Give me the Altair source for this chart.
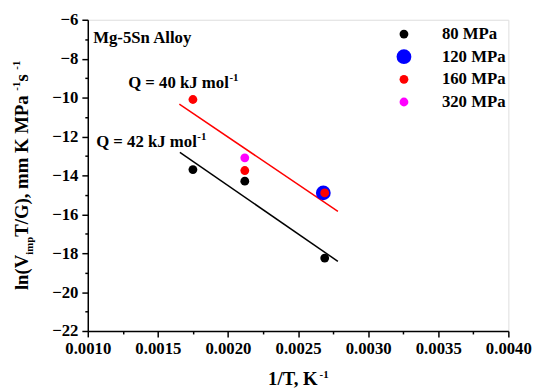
import altair as alt
import pandas as pd

# ---------------- data ----------------
series_order = ["80 MPa", "120 MPa", "160 MPa", "320 MPa"]
series_colors = ["#000000", "#0000FF", "#FF0000", "#FF00FF"]
series_sizes = [80, 225, 80, 80]

pt_series = ["80 MPa", "80 MPa", "80 MPa", "120 MPa", "160 MPa", "160 MPa", "160 MPa", "320 MPa"]
pt_inv_t = [0.00175, 0.00212, 0.00269, 0.00268, 0.00175, 0.00212, 0.00269, 0.00212]
pt_ln = [-13.7, -14.3, -18.25, -14.9, -10.1, -13.75, -14.9, -13.1]

fit_name = ["Q40", "Q40", "Q42", "Q42"]
fit_inv_t = [0.001653, 0.002784, 0.001657, 0.002784]
fit_ln = [-10.34, -15.85, -12.82, -18.42]

x_major = [0.0010, 0.0015, 0.0020, 0.0025, 0.0030, 0.0035, 0.0040]
x_minor = [0.00125, 0.00175, 0.00225, 0.00275, 0.00325, 0.00375]
y_major = [-22, -20, -18, -16, -14, -12, -10, -8, -6]
y_minor = [-21, -19, -17, -15, -13, -11, -9, -7]

FONT = "Liberation Serif"
W, H = 427, 316

# Times-Bold advance widths (per em) for placing super/subscripts
TW = {' ': .25, '(': .333, ')': .333, ',': .25, '-': .333, '.': .25, '/': .278,
      '=': .57, 'G': .778, 'K': .778, 'M': .944, 'P': .611, 'Q': .778, 'T': .667,
      'V': .722, 'a': .5, 'i': .278, 'k': .556, 'l': .278, 'm': .833, 'n': .556,
      'o': .5, 'p': .556, 's': .389, 'J': .5}


def tw(s, size):
    return sum(TW.get(c, .5) for c in s) * size


pts = pd.DataFrame({"series": pt_series, "inv_t": pt_inv_t, "ln": pt_ln})
fits = pd.DataFrame({"fit": fit_name, "inv_t": fit_inv_t, "ln": fit_ln})

xscale = alt.Scale(domain=[0.001, 0.004], nice=False, zero=False)
yscale = alt.Scale(domain=[-22, -6], nice=False, zero=False)

common_axis = dict(title=None, grid=False, labelFont=FONT, labelFontSize=17, labelFontWeight="bold",
                   labelColor="black", domainColor="black", domainWidth=1.5, tickColor="black",
                   tickWidth=1.5, labelOverlap=False, labelFlush=False)

x_axis = alt.Axis(values=x_major, format=".4f", tickSize=6, labelPadding=4, orient="bottom", **common_axis)
y_axis = alt.Axis(values=y_major, format="d", tickSize=6, labelPadding=4, orient="left", **common_axis)
x_axis_minor = alt.Axis(values=x_minor, tickSize=3, labels=False, domain=False, orient="bottom",
                        title=None, grid=False, tickColor="black", tickWidth=1.5)
y_axis_minor = alt.Axis(values=y_minor, tickSize=3, labels=False, domain=False, orient="left",
                        title=None, grid=False, tickColor="black", tickWidth=1.5)

legend = alt.Legend(
    title=None, orient="none", legendX=312.5, legendY=6, padding=0,
    labelFont=FONT, labelFontSize=17, labelFontWeight="bold", labelColor="black",
    symbolType="circle", symbolStrokeWidth=0, rowPadding=5, labelOffset=30)

points = alt.Chart(pts).mark_circle(opacity=1).encode(
    x=alt.X("inv_t:Q", scale=xscale, axis=x_axis),
    y=alt.Y("ln:Q", scale=yscale, axis=y_axis),
    color=alt.Color("series:N", scale=alt.Scale(domain=series_order, range=series_colors), legend=legend),
    size=alt.Size("series:N", scale=alt.Scale(type="ordinal", domain=series_order, range=series_sizes),
                  legend=legend),
)

minor = alt.Chart(pts).mark_point(opacity=0).encode(
    x=alt.X("inv_t:Q", scale=xscale, axis=x_axis_minor),
    y=alt.Y("ln:Q", scale=yscale, axis=y_axis_minor),
)

line_red = alt.Chart(fits).transform_filter("datum.fit == 'Q40'").mark_line(
    color="#FF0000", strokeWidth=1.5).encode(
    x=alt.X("inv_t:Q", scale=xscale, axis=None), y=alt.Y("ln:Q", scale=yscale, axis=None))
line_black = alt.Chart(fits).transform_filter("datum.fit == 'Q42'").mark_line(
    color="#000000", strokeWidth=1.5).encode(
    x=alt.X("inv_t:Q", scale=xscale, axis=None), y=alt.Y("ln:Q", scale=yscale, axis=None))


def label(text, x, y, size=17, angle=None, align="left"):
    kw = dict(font=FONT, fontSize=size, fontWeight="bold", color="black",
              align=align, baseline="alphabetic")
    if angle is not None:
        kw["angle"] = angle
    return alt.Chart(alt.Data(values=[{"t": text}])).mark_text(**kw).encode(
        x=alt.value(x), y=alt.value(y), text="t:N")


texts = []
texts.append(label("Mg-5Sn Alloy", 5.5, 24))
for txt, x0, yb in [("Q = 40 kJ mol", 41, 69), ("Q = 42 kJ mol", 8.5, 129)]:
    texts.append(label(txt, x0, yb))
    texts.append(label("-1", x0 + tw(txt, 17) + 0.5, yb - 7, size=11))

MAIN, SMALL = 19, 11
xt_main = "1/T, K"
xt_total = tw(xt_main, MAIN) + tw("-1", SMALL)
x0 = W / 2 - xt_total / 2
texts.append(label(xt_main, x0, 371, size=MAIN))
texts.append(label("-1", x0 + tw(xt_main, MAIN) + 0.5, 364, size=SMALL))

pieces = [("ln(V", "m"), ("imp", "sub"), (" T/G), mm K MPa", "m"), ("-1", "sup"), (" s", "m"), ("-1", "sup")]
ytot = sum(tw(s, MAIN if k == "m" else SMALL) for s, k in pieces)
ypos = H / 2 + ytot / 2
base_x = -60.5
for s, k in pieces:
    size = MAIN if k == "m" else SMALL
    bx = base_x + (5 if k == "sub" else (-8.5 if k == "sup" else 0))
    texts.append(label(s, bx, ypos, size=size, angle=270))
    ypos -= tw(s, size)

chart = alt.layer(minor, line_red, line_black, points, *texts).resolve_axis(
    x="independent", y="independent").properties(
    width=W, height=H,
    autosize=alt.AutoSizeParams(type="none"),
    padding={"left": 81, "top": 9, "right": 24, "bottom": 59},
).configure_view(stroke="black", strokeWidth=1.5).configure(background="white")

chart.save("out.html", embed_options={"renderer": "svg", "actions": False})
